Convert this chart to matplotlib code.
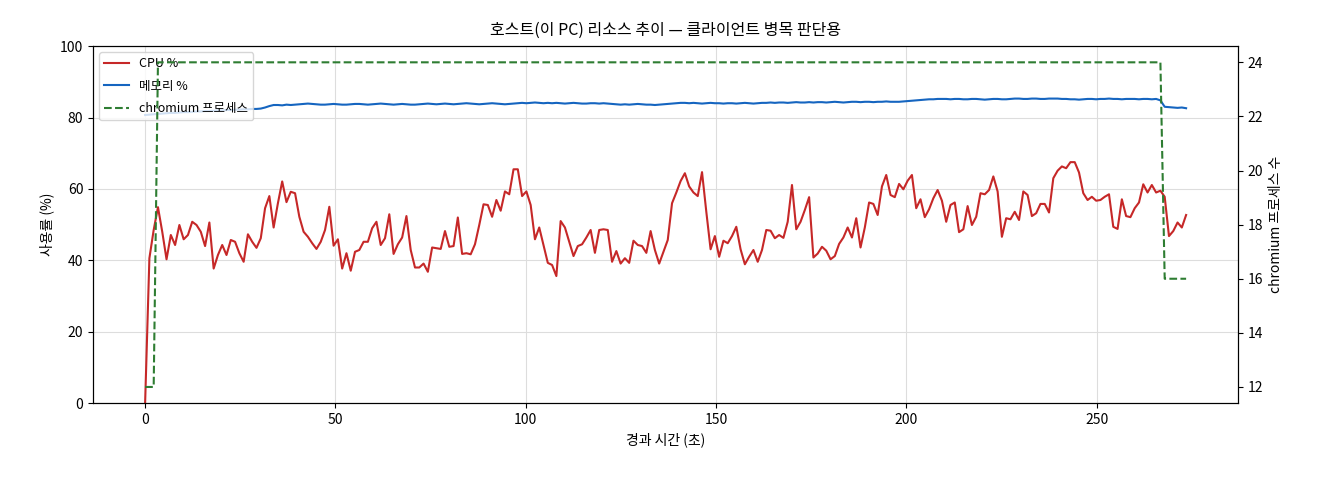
import numpy as np
import matplotlib
matplotlib.use("Agg")
import matplotlib.pyplot as plt

plt.rcParams['font.family'] = ['Noto Sans CJK KR', 'DejaVu Sans']
plt.rcParams['axes.unicode_minus'] = False

SAMPLE_SEC = 1.1255  # seconds between samples

cpu_pct = [
    0, 40.6, 48.5, 54.9, 48.0, 40.3, 47.1, 44.3, 49.9, 45.9, 47.1, 50.8, 49.9, 48.0, 44.0, 50.6,
    37.7, 41.5, 44.3, 41.5, 45.7, 45.2, 42.0, 39.6, 47.3, 45.2, 43.5, 46.2, 54.6, 58.0, 49.2,
    56.0, 62.1, 56.3, 59.2, 58.8, 52.2, 48.0, 46.6, 44.8, 43.2, 45.2, 48.5, 55.0, 44.1, 45.9,
    37.7, 42.0, 37.1, 42.4, 42.9, 45.2, 45.2, 49.0, 50.8, 44.3, 46.2, 52.9, 41.8, 44.5, 46.4, 52.4,
    42.9, 38.0, 38.0, 39.1, 36.8, 43.6, 43.4, 43.2, 48.2, 43.8, 44.0, 52.0, 41.8, 42.0, 41.7,
    44.5, 49.9, 55.7, 55.5, 52.2, 56.9, 53.9, 59.3, 58.5, 65.5, 65.5, 58.0, 59.3, 55.5, 45.9,
    49.2, 44.3, 39.3, 38.7, 35.6, 51.0, 49.2, 45.2, 41.2, 44.0, 44.5, 46.4, 48.5, 42.1, 48.5,
    48.7, 48.5, 39.6, 42.6, 39.1, 40.6, 39.3, 45.5, 44.3, 44.0, 42.1, 48.2, 42.9, 39.1, 42.4, 45.7,
    56.0, 59.0, 62.2, 64.4, 60.7, 59.0, 58.0, 64.7, 53.6, 43.1, 46.8, 41.0, 45.5, 44.8, 46.8,
    49.4, 43.1, 38.9, 41.0, 42.9, 39.6, 42.9, 48.5, 48.3, 46.2, 47.1, 46.3, 50.8, 61.1,
    48.7, 50.8, 54.1, 57.7, 40.8, 41.9, 43.8, 42.7, 40.3, 41.2, 44.6, 46.4, 49.2, 46.4, 51.8,
    43.6, 49.2, 56.2, 55.8, 52.7, 60.7, 63.9, 58.3, 57.7, 61.4, 59.9, 62.3, 63.9, 54.6, 57.1, 52.1,
    54.3, 57.4, 59.7, 56.7, 50.8, 55.5, 56.2, 47.9, 48.7, 55.2, 49.9, 52.2, 58.8, 58.5, 59.7,
    63.5, 59.3, 46.6, 51.8, 51.5, 53.6, 51.3, 59.3, 58.3, 52.4, 53.2, 55.8, 55.8, 53.4, 63.0,
    65.1, 66.3, 65.8, 67.5, 67.5, 64.6, 58.8, 56.9, 57.8, 56.7, 56.9, 57.8, 58.5, 49.4, 48.8,
    57.1, 52.4, 52.1, 54.6, 56.2, 61.3, 59.0, 61.1, 59.0, 59.5, 57.8, 46.8, 48.2, 50.6, 49.2, 52.7,
]

mem_pct = [
    80.7, 80.8, 80.9, 81.0, 81.1,
    81.2, 81.3, 81.3, 81.4, 81.5, 81.5, 81.6, 81.7, 81.7, 81.8, 81.8, 81.9, 82.0, 82.0, 82.1,
    82.1, 82.2, 82.2, 82.3, 82.3, 82.4, 82.4,
    82.5, 82.8, 83.2, 83.5,
    83.5, 83.4, 83.6, 83.5, 83.6, 83.7, 83.8, 83.9,
    83.8, 83.7, 83.6, 83.6, 83.7, 83.8, 83.7, 83.6, 83.6, 83.7, 83.8, 83.8, 83.7, 83.6, 83.7,
    83.8, 83.9, 83.8, 83.7, 83.6, 83.7, 83.8, 83.7, 83.6, 83.6, 83.7, 83.8, 83.9, 83.8, 83.7,
    83.8, 83.9, 83.8, 83.7, 83.8, 83.9, 84.0, 83.9, 83.8, 83.7, 83.8, 83.9, 84.0, 83.9, 83.8,
    83.7, 83.8, 83.9, 84.0, 84.1, 84.0, 84.1,
    84.2, 84.1, 84.0, 84.1, 84.0, 84.1, 84.0, 83.9, 84.0, 84.1, 84.0, 83.9, 83.9, 84.0, 84.0,
    83.9, 84.0, 83.9, 83.8, 83.7, 83.6, 83.7, 83.6, 83.7, 83.8, 83.7, 83.6, 83.6, 83.5, 83.6,
    83.7, 83.8, 83.9, 84.0, 84.1, 84.1, 84.0, 84.1, 84.0, 83.9, 84.0, 84.1, 84.0, 84.0, 83.9,
    84.0, 84.0, 83.9, 84.0, 84.1, 84.0, 83.9, 84.0, 84.1, 84.1, 84.2, 84.1, 84.2, 84.2, 84.1,
    84.2, 84.3, 84.2, 84.2, 84.3, 84.2, 84.3, 84.3, 84.2, 84.3, 84.4, 84.3, 84.2, 84.3, 84.4,
    84.4, 84.3, 84.4, 84.4, 84.3, 84.4, 84.4, 84.5, 84.4, 84.4,
    84.4, 84.5, 84.6, 84.7, 84.8, 84.9, 85.0, 85.1, 85.1, 85.2, 85.2,
    85.2, 85.1, 85.2, 85.2, 85.1, 85.1, 85.2, 85.2, 85.1, 85.0, 85.1, 85.2, 85.2, 85.1, 85.1,
    85.2, 85.3, 85.3, 85.2, 85.2, 85.3, 85.3, 85.2, 85.2, 85.3, 85.3, 85.3, 85.2, 85.2, 85.1,
    85.1, 85.0, 85.1, 85.2, 85.2, 85.1, 85.2, 85.2, 85.3, 85.2, 85.2, 85.1, 85.2, 85.2, 85.2,
    85.1, 85.2, 85.2, 85.1, 85.2,
    84.8, 83.0, 82.9, 82.8, 82.7, 82.8, 82.6,
]

chromium_procs = [12, 12, 12] + [24] * 235 + [16] * 6

n = len(cpu_pct)
elapsed = np.arange(n) * SAMPLE_SEC

fig = plt.figure(figsize=(13.2, 4.8), dpi=100)
ax1 = fig.add_axes([0.0705, 0.160, 0.8675, 0.744])
ax2 = ax1.twinx()

l1, = ax1.plot(elapsed, cpu_pct[:n], color='#c62828', lw=1.5, label='CPU %')
m = min(len(mem_pct), n)
l2, = ax1.plot(elapsed[:m], mem_pct[:m], color='#1565c0', lw=1.5, label='메모리 %')
k = min(len(chromium_procs), n)
l3, = ax2.plot(elapsed[:k], chromium_procs[:k], color='#2e7d32', lw=1.5,
               ls='--', label='chromium 프로세스')

ax1.set_ylim(0, 100)
ax1.grid(True, color='#dddddd', lw=0.8)
ax1.set_axisbelow(True)
ax1.set_xlabel('경과 시간 (초)', fontsize=10)
ax1.set_ylabel('사용률 (%)', fontsize=10)
ax2.set_ylabel('chromium 프로세스 수', fontsize=10)
ax1.set_title('호스트(이 PC) 리소스 추이 — 클라이언트 병목 판단용', fontsize=11.5, pad=8)
ax1.tick_params(labelsize=10)
ax2.tick_params(labelsize=10)
ax1.legend(handles=[l1, l2, l3], loc='upper left', fontsize=9, labelspacing=0.75)

fig.savefig('out.png', dpi=100)
